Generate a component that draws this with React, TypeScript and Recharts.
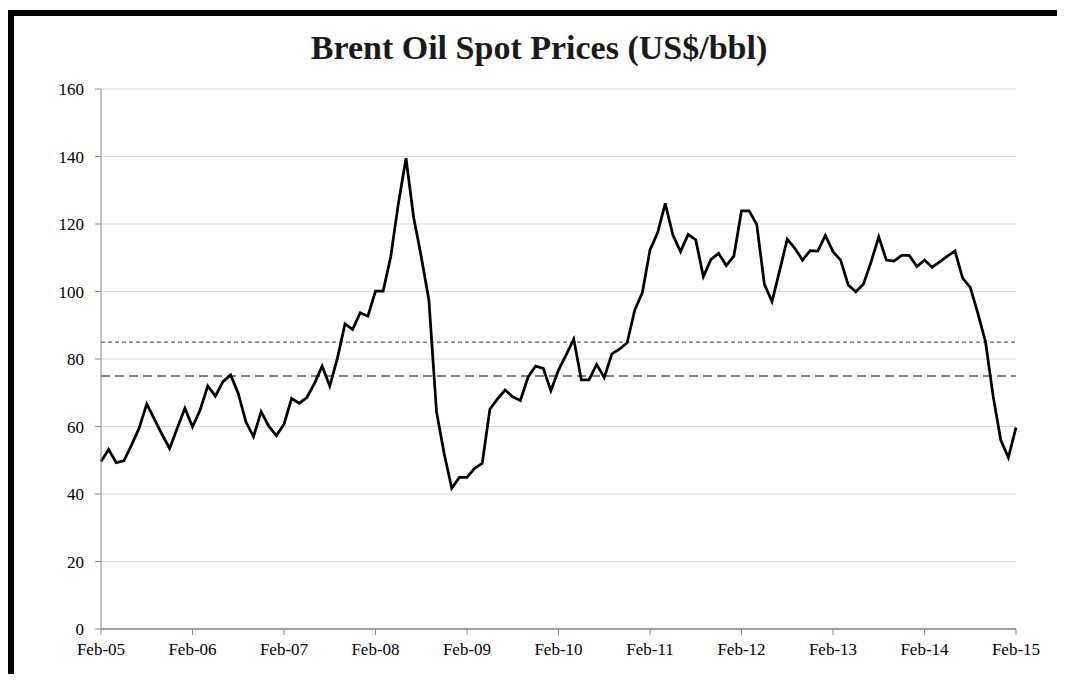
import { LineChart, Line, XAxis, YAxis, CartesianGrid, ReferenceLine } from 'recharts';

const MONTH_NAMES = ['Jan', 'Feb', 'Mar', 'Apr', 'May', 'Jun', 'Jul', 'Aug', 'Sep', 'Oct', 'Nov', 'Dec'];

// monthly Brent spot, Feb-05 .. Feb-15
const brentPrices = [
  49.6, 53.2, 49.3, 49.8, 54.5, 59.5, 66.7, 62.2, 57.7, 53.5, 59.5, 65.4,
  59.9, 64.9, 72.0, 69.0, 73.3, 75.3, 69.8, 61.4, 57.0, 64.4, 60.1, 57.3,
  60.7, 68.3, 66.9, 68.6, 72.8, 77.9, 72.0, 80.2, 90.4, 88.8, 93.7, 92.7,
  100.1, 100.1, 110.3, 126.1, 139.5, 122.0, 110.3, 97.5, 64.4, 52.0, 41.7, 44.9,
  44.9, 47.6, 49.1, 65.1, 68.2, 70.8, 68.8, 67.7, 74.6, 77.9, 77.2, 70.6,
  76.7, 81.2, 85.9, 73.8, 73.8, 78.4, 74.5, 81.5, 82.9, 84.8, 94.5, 99.7,
  112.3, 117.4, 126.1, 116.7, 111.8, 116.9, 115.3, 104.4, 109.5, 111.3, 107.7, 110.5,
  123.9, 123.9, 119.9, 102.1, 97.0, 106.2, 115.5, 112.8, 109.3, 112.1, 112.0, 116.6,
  111.8, 109.3, 101.9, 99.9, 102.2, 108.8, 116.2, 109.3, 109.0, 110.7, 110.7, 107.4,
  109.3, 107.2, 108.8, 110.5, 112.0, 104.0, 101.2, 93.5, 85.1, 69.0, 56.0, 50.8,
  59.7,
];

const months = brentPrices.map((_, i) => {
  const m = (i + 1) % 12;
  const yy = 5 + Math.floor((i + 1) / 12);
  return `${MONTH_NAMES[m]}-${String(yy).padStart(2, '0')}`;
});

const yearTicks = [0, 12, 24, 36, 48, 60, 72, 84, 96, 108, 120];
const priceTicks = [0, 20, 40, 60, 80, 100, 120, 140, 160];

const data = brentPrices.map((price, i) => ({ idx: i, month: months[i], price }));

const FONT = '"Liberation Serif", "Times New Roman", serif';

export default function App() {
  return (
    <div style={{ position: 'relative', width: 1065, height: 682, margin: -8, overflow: 'hidden', background: '#fff' }}>
      <div
        style={{
          position: 'absolute',
          left: 8,
          top: 10,
          width: 1080,
          height: 700,
          border: '6px solid #000',
          boxSizing: 'border-box',
        }}
      />
      <div
        style={{
          position: 'absolute',
          left: 0,
          top: 31,
          width: 1078,
          textAlign: 'center',
          fontFamily: FONT,
          fontWeight: 'bold',
          fontSize: 34,
          lineHeight: '34px',
          color: '#1a1a1a',
        }}
      >
        Brent Oil Spot Prices (US$/bbl)
      </div>
      <div style={{ position: 'absolute', left: 0, top: 0 }}>
        <LineChart width={1065} height={682} data={data} margin={{ top: 89, right: 49, bottom: 23, left: 41 }}>
          <CartesianGrid vertical={false} stroke="#d9d9d9" />
          <XAxis
            dataKey="idx"
            type="number"
            domain={[0, 120]}
            ticks={yearTicks}
            interval={0}
            tickFormatter={(v) => months[v]}
            height={30}
            tickSize={6}
            tickMargin={8}
            tick={{ fill: '#000', fontSize: 17, fontFamily: FONT }}
            axisLine={{ stroke: '#868686', strokeWidth: 1.5 }}
            tickLine={{ stroke: '#868686' }}
          />
          <YAxis
            domain={[0, 160]}
            ticks={priceTicks}
            interval={0}
            width={60}
            tickSize={6}
            tickMargin={11}
            tick={{ fill: '#000', fontSize: 17, fontFamily: FONT }}
            axisLine={{ stroke: '#868686' }}
            tickLine={{ stroke: '#868686' }}
          />
          <ReferenceLine y={85} stroke="#7f7f7f" strokeWidth={1.5} strokeDasharray="4 3" />
          <ReferenceLine y={75} stroke="#7f7f7f" strokeWidth={2} strokeDasharray="9 5" />
          <Line
            type="linear"
            dataKey="price"
            stroke="#000"
            strokeWidth={2.75}
            dot={false}
            isAnimationActive={false}
          />
        </LineChart>
      </div>
    </div>
  );
}
